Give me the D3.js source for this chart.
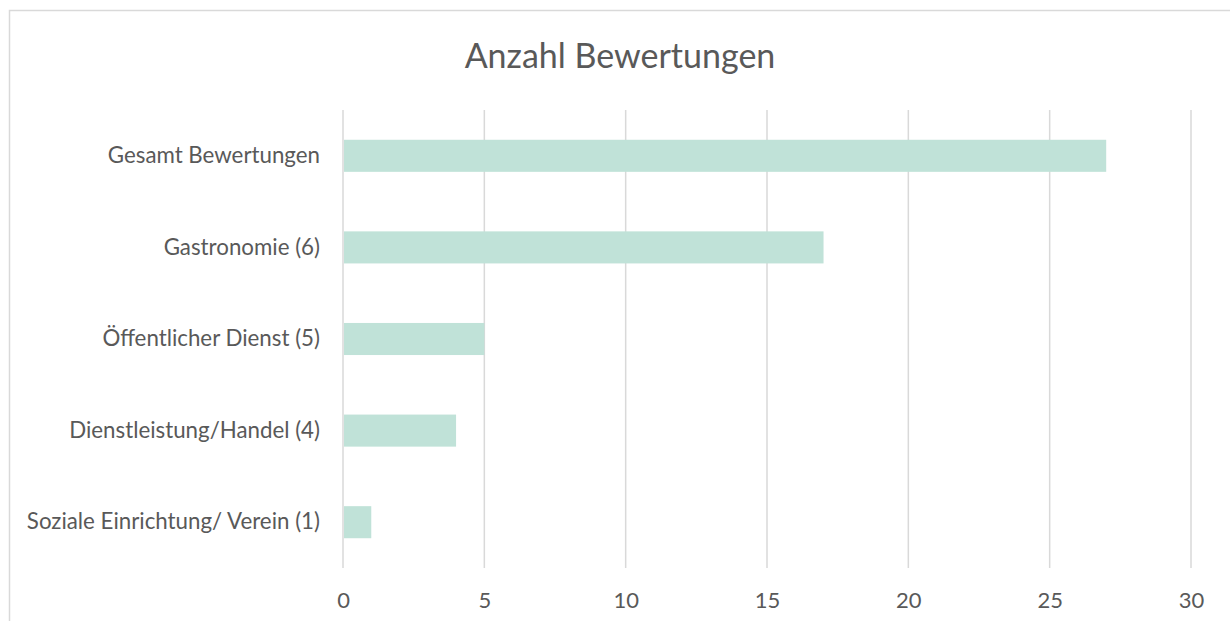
<!DOCTYPE html>
<html>
<head>
<meta charset="utf-8">
<script src="https://cdn.jsdelivr.net/npm/d3@7"></script>
<style>
  body { margin: 0; background: #fff; }
  svg { display: block; font-family: Lato, "Open Sans", sans-serif; }
</style>
</head>
<body>
<div id="chart"></div>
<script>
// chart values
const categories = [
  'Gesamt Bewertungen',
  'Gastronomie (6)',
  'Öffentlicher Dienst (5)',
  'Dienstleistung/Handel (4)',
  'Soziale Einrichtung/ Verein (1)'
];
const values = [27, 17, 5, 4, 1];
const xTicks = [0, 5, 10, 15, 20, 25, 30];
const title = 'Anzahl Bewertungen';

const width = 1230, height = 621;
const margin = {top: 110, right: 39, bottom: 53, left: 343};

const svg = d3.select('#chart')
  .append('svg')
    .attr('width', width)
    .attr('height', height);

// outer chart border (only top and left show in the frame)
svg.append('rect')
  .attr('x', 9.5)
  .attr('y', 10.5)
  .attr('width', width)
  .attr('height', height)
  .attr('fill', 'none')
  .attr('stroke', '#d9d9d9')
  .attr('stroke-width', 1.5);

const x = d3.scaleLinear()
  .domain([0, 30])
  .range([margin.left, width - margin.right]);

const y = d3.scaleBand()
  .domain(categories)
  .range([margin.top, height - margin.bottom])
  .paddingInner(0.65)
  .paddingOuter(0.325);

// vertical gridlines
svg.append('g')
  .selectAll('line')
  .data(xTicks)
  .enter()
  .append('line')
    .attr('x1', d => x(d))
    .attr('x2', d => x(d))
    .attr('y1', margin.top)
    .attr('y2', height - margin.bottom)
    .attr('stroke', '#d9d9d9')
    .attr('stroke-width', 1.5);

// bars
svg.append('g')
  .selectAll('rect')
  .data(values)
  .enter()
  .append('rect')
    .attr('x', x(0) + 1)
    .attr('y', (d, i) => y(categories[i]))
    .attr('width', d => x(d) - x(0) - 1)
    .attr('height', y.bandwidth())
    .attr('fill', '#c0e2d8');

// x axis labels
const xAxis = d3.axisBottom(x)
  .tickValues(xTicks)
  .tickSize(0)
  .tickPadding(24);

svg.append('g')
  .attr('transform', `translate(0,${height - margin.bottom})`)
  .call(xAxis)
  .call(g => g.select('.domain').remove())
  .call(g => g.selectAll('text')
    .attr('fill', '#595959')
    .style('font-size', '22px')
    .style('font-family', 'Lato, sans-serif'));

// category labels
const yAxis = d3.axisLeft(y)
  .tickSize(0)
  .tickPadding(23);

svg.append('g')
  .attr('transform', `translate(${margin.left},0)`)
  .call(yAxis)
  .call(g => g.select('.domain').remove())
  .call(g => g.selectAll('text')
    .attr('fill', '#595959')
    .style('font-size', '22.3px')
    .style('font-family', 'Lato, sans-serif'));

// title
svg.append('text')
  .attr('x', 620)
  .attr('y', 68)
  .attr('text-anchor', 'middle')
  .attr('fill', '#595959')
  .style('font-size', '34px')
  .text(title);
</script>
</body>
</html>
